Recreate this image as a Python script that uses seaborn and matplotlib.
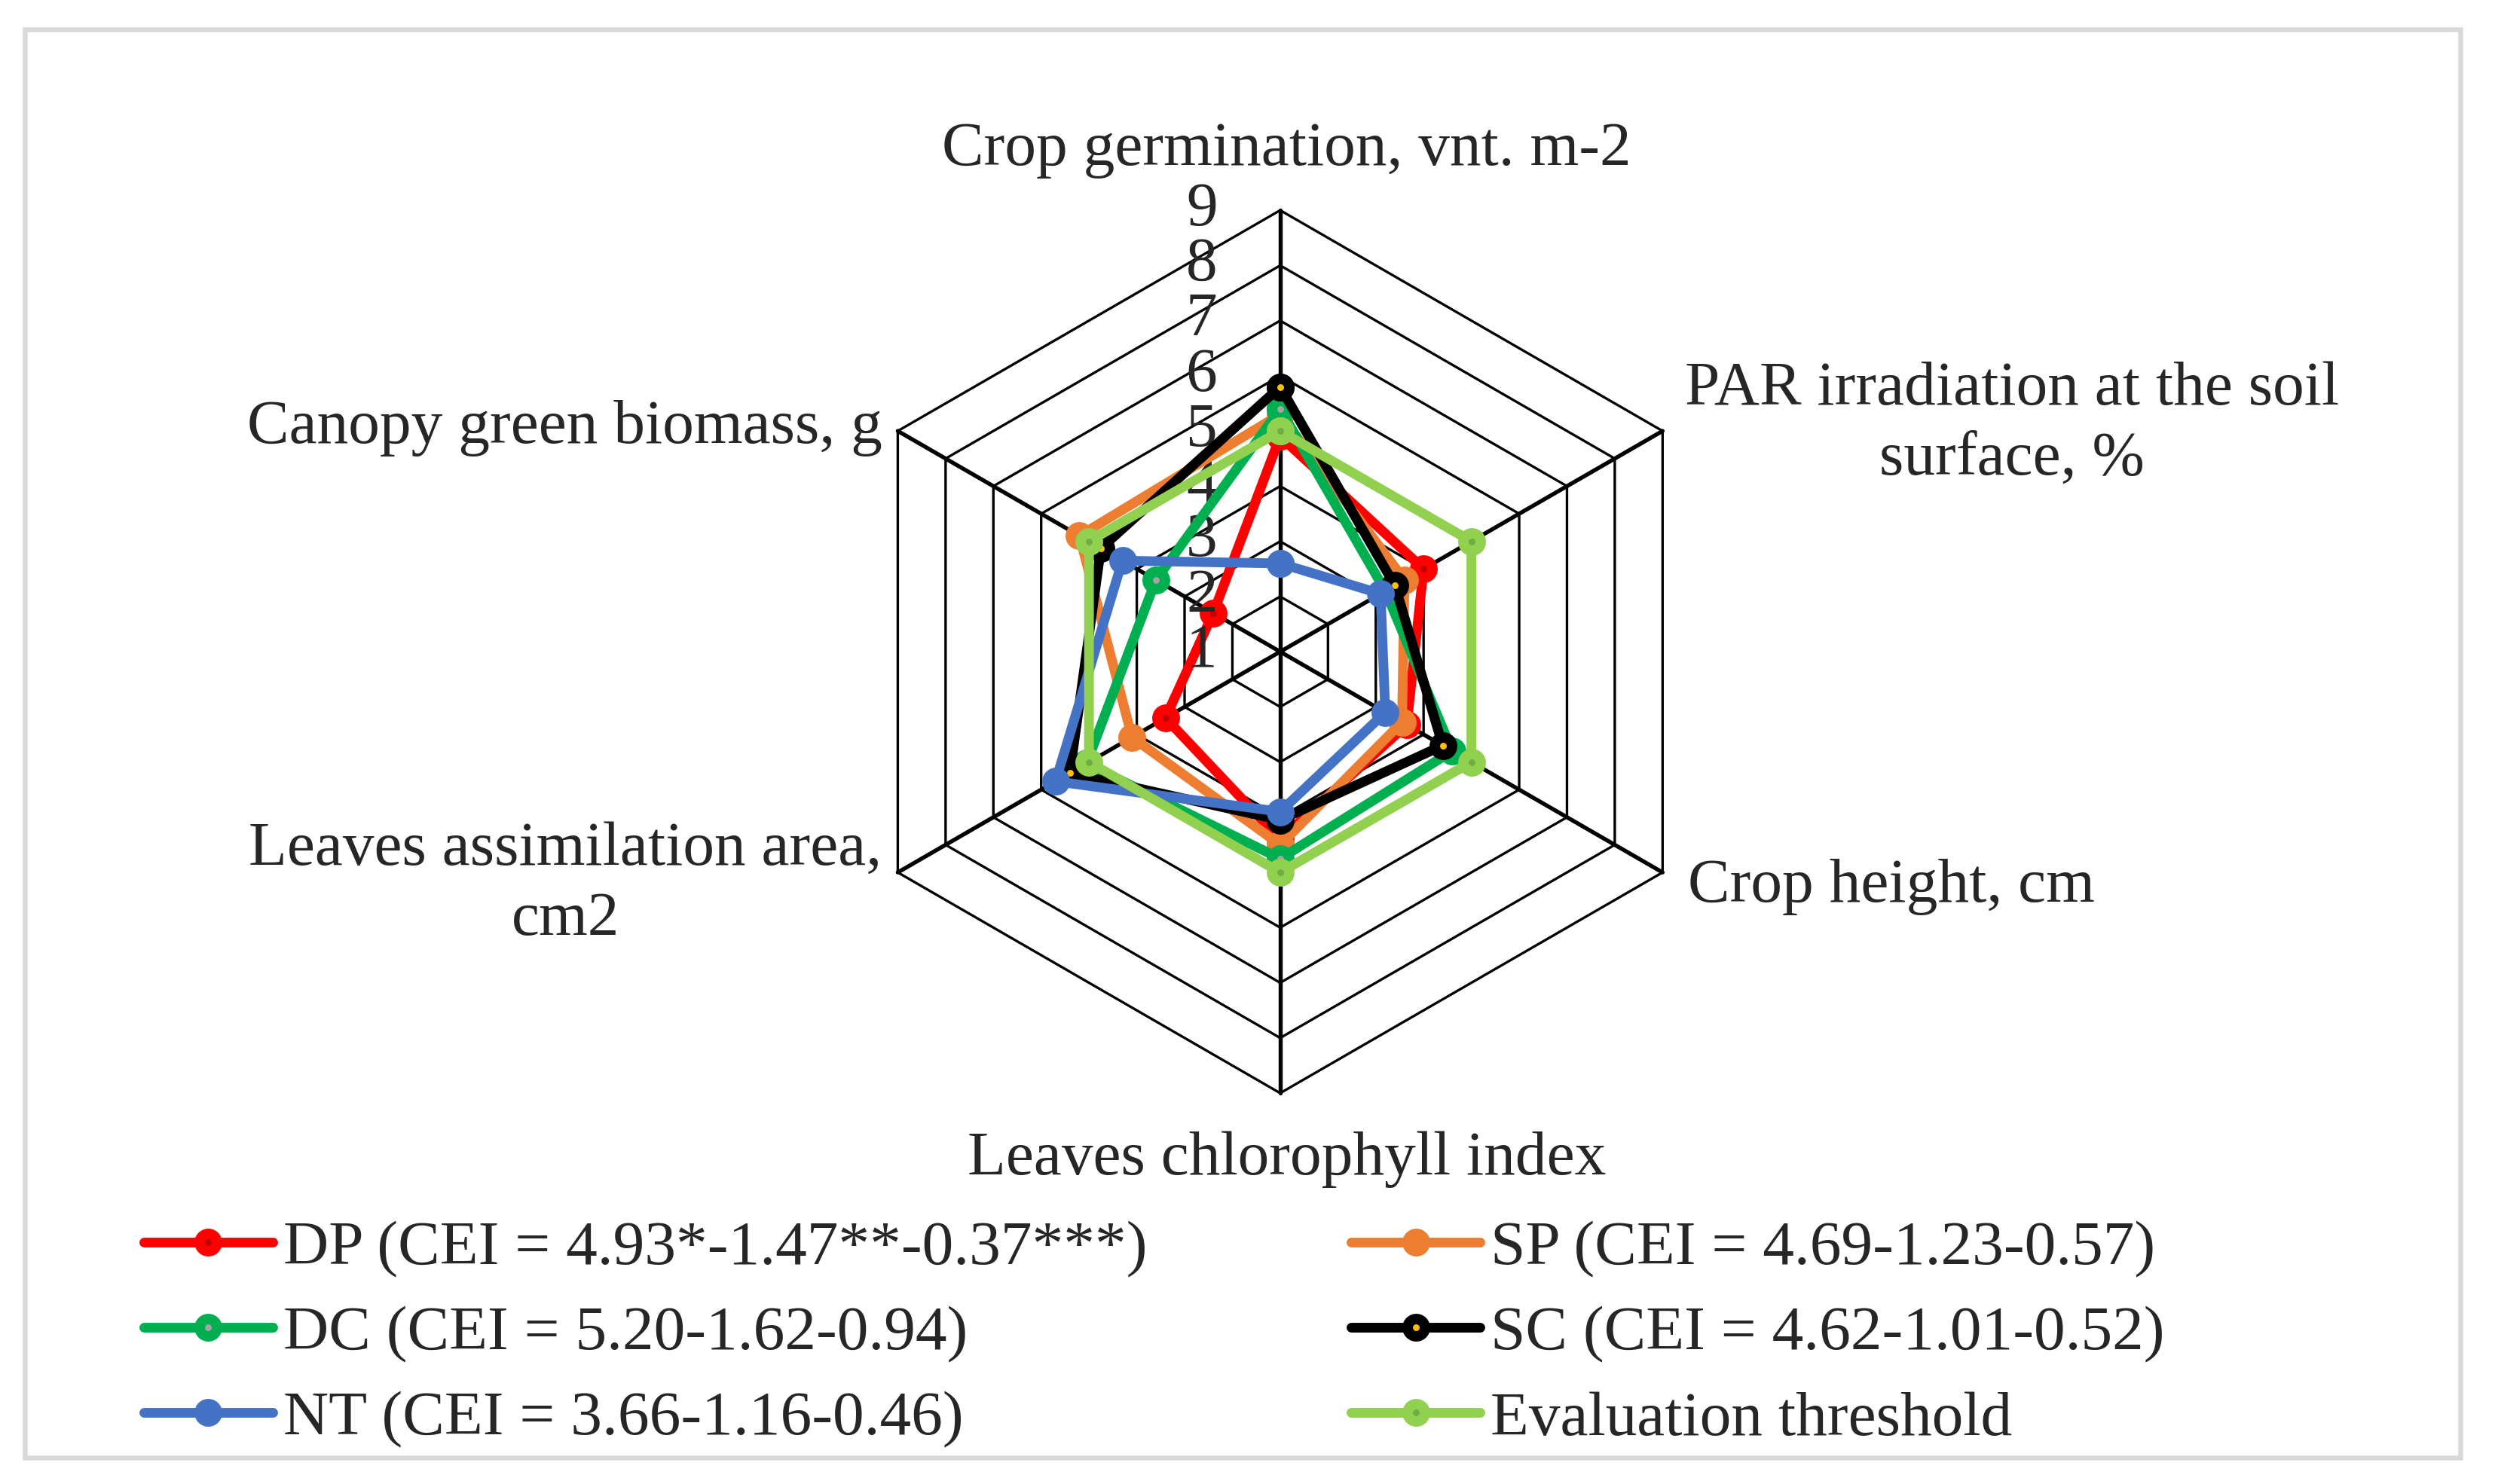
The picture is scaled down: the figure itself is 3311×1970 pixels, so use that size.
import matplotlib.pyplot as plt
import numpy as np
import pandas as pd
import seaborn as sns
from matplotlib.patches import Rectangle

categories = [
    "Crop germination, vnt. m-2",
    "PAR irradiation at the soil\nsurface, %",
    "Crop height, cm",
    "Leaves chlorophyll index",
    "Leaves assimilation area,\ncm2",
    "Canopy green biomass, g",
]
series = [
    "DP (CEI = 4.93*-1.47**-0.37***)",
    "SP (CEI = 4.69-1.23-0.57)",
    "DC (CEI = 5.20-1.62-0.94)",
    "SC (CEI = 4.62-1.01-0.52)",
    "NT (CEI = 3.66-1.16-0.46)",
    "Evaluation threshold",
]
dp = [4.9, 4.0, 3.65, 4.4, 3.4, 2.4]
sp = [5.3, 3.6, 3.55, 4.5, 4.1, 5.2]
dc = [5.4, 3.2, 4.6, 4.75, 5.05, 3.6]
sc = [5.8, 3.4, 4.4, 4.05, 5.4, 4.75]
nt = [2.6, 3.1, 3.2, 3.9, 5.7, 4.3]
threshold = [5.0, 5.0, 5.0, 5.0, 5.0, 5.0]
ticks = [1, 2, 3, 4, 5, 6, 7, 8, 9]

line_colors = ["#FF0000", "#ED7D31", "#00B050", "#000000", "#4472C4", "#92D050"]
dot_colors = ["#C00000", "#ED7D31", "#A5A5A5", "#FFC000", "#4472C4", "#70AD47"]

sns.set_theme(style="white")
plt.rcParams["font.family"] = ["Liberation Serif", "DejaVu Serif"]
FS = 20

angles = np.linspace(0, 2 * np.pi, len(categories), endpoint=False)
theta = np.append(angles, 2 * np.pi)

rows = []
for name, vals in zip(series, [dp, sp, dc, sc, nt, threshold]):
    for t, v in zip(theta, vals + vals[:1]):
        rows.append({"series": name, "theta": t, "value": v})
df = pd.DataFrame(rows)

fig = plt.figure(figsize=(3311 / 300, 1970 / 300), dpi=300)
ax = fig.add_axes([0.3361, 0.2634, 0.3540, 0.5949], projection="polar")
ax.set_theta_offset(np.pi / 2)
ax.set_theta_direction(-1)
ax.grid(False)
ax.spines["polar"].set_visible(False)
ax.patch.set_visible(False)

# hexagonal grid
for r in ticks[1:]:
    ax.plot(theta, [r] * len(theta), color="black", lw=0.8, zorder=1, clip_on=False)
for a in angles:
    ax.plot([a, a], [ticks[0], ticks[-1]], color="black", lw=1.3, zorder=1, clip_on=False)
n_grid = len(ax.lines)

sns.lineplot(
    data=df, x="theta", y="value", hue="series", hue_order=series,
    palette=line_colors, sort=False, estimator=None, legend=False,
    marker="o", lw=3.1, ax=ax,
)
series_lines = ax.lines[n_grid:]
for i, ln in enumerate(series_lines):
    ln.set_markersize(5.5)
    ln.set_markeredgewidth(3.35)
    ln.set_markeredgecolor(line_colors[i])
    ln.set_markerfacecolor(dot_colors[i])
    ln.set_solid_capstyle("round")
    ln.set_solid_joinstyle("round")
    ln.set_zorder(3 + i)
    ln.set_clip_on(False)

ax.set_ylim(ticks[0], ticks[-1])
ax.set_xticks([])
ax.set_yticks([])
ax.set_xlabel("")
ax.set_ylabel("")

for r in ticks:
    ax.annotate(str(r), xy=(0, r), xytext=(-20, 0), textcoords="offset points",
                ha="right", va="center", fontsize=FS, annotation_clip=False)

label_layout = [
    ((2, 10), "center", "bottom"),
    ((7, 2), "left", "center"),
    ((8, -4.5), "left", "center"),
    ((2, -12), "center", "top"),
    ((-5, -4), "right", "center"),
    ((-5, 1), "right", "center"),
]
for a, lab, (off, ha, va) in zip(angles, categories, label_layout):
    ax.annotate(lab, xy=(a, ticks[-1]), xytext=off, textcoords="offset points",
                ha=ha, va=va, multialignment="center", linespacing=1.3,
                fontsize=FS, annotation_clip=False)

order = [0, 2, 4, 1, 3, 5]
fig.legend([series_lines[i] for i in order], [series[i] for i in order],
           loc="upper left", bbox_to_anchor=(0.0577, 0.1775), ncol=2,
           frameon=False, fontsize=FS, handlelength=2.05, handletextpad=0.17,
           columnspacing=3.25, labelspacing=0.44, borderpad=0, borderaxespad=0)

fig.patches.append(Rectangle((0.00982, 0.01802), 0.97614, 0.96218,
                             transform=fig.transFigure, fill=False,
                             ec="#D9D9D9", lw=1.56))

fig.savefig("out.png", dpi=300)
